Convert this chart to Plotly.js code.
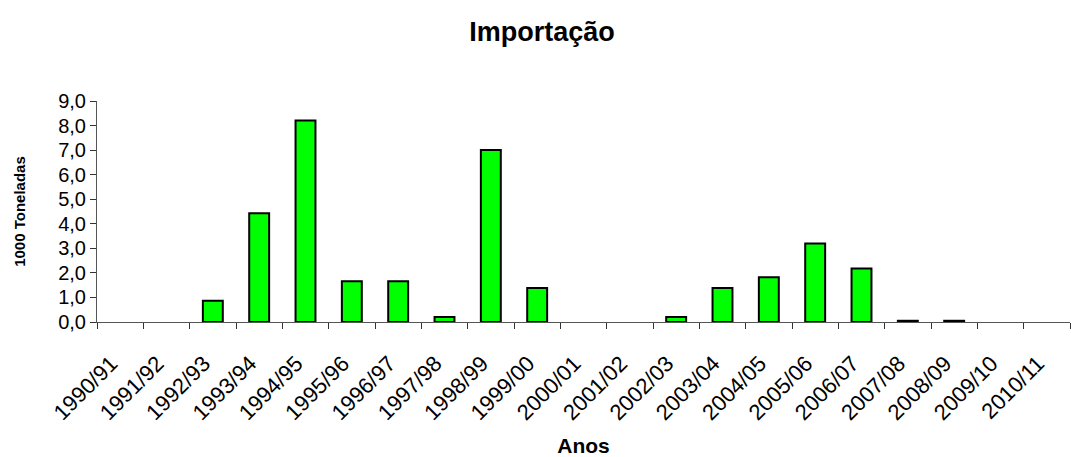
<!DOCTYPE html>
<html>
<head>
<meta charset="utf-8">
<script src="https://cdn.plot.ly/plotly-3.0.1.min.js"></script>
<style>html,body{margin:0;padding:0;background:#fff;}#chart{width:1071px;height:457px;}</style>
</head>
<body>
<div id="chart"></div>
<script>
var categories = ["1990/91","1991/92","1992/93","1993/94","1994/95","1995/96","1996/97","1997/98","1998/99","1999/00","2000/01","2001/02","2002/03","2003/04","2004/05","2005/06","2006/07","2007/08","2008/09","2009/10","2010/11"];
var importacao = [0, 0, 0.87, 4.43, 8.21, 1.66, 1.66, 0.2, 7.0, 1.38, 0, 0, 0.2, 1.38, 1.82, 3.2, 2.18, 0.05, 0.05, 0, 0];
var yTicks = [0,1,2,3,4,5,6,7,8,9];

var outlineWidths = importacao.map(function (v) { return v > 0 ? 2 : 0; });

var trace = {
  type: "bar",
  x: categories,
  y: importacao,
  marker: {color: "#00ff00", line: {color: "#000000", width: outlineWidths}},
  hoverinfo: "x+y"
};

var layout = {
  width: 1071,
  height: 457,
  margin: {l: 97, r: 1, t: 101, b: 135},
  paper_bgcolor: "#ffffff",
  plot_bgcolor: "#ffffff",
  separators: ",.",
  bargap: 0.57,
  showlegend: false,
  font: {family: "Liberation Sans, Arial, sans-serif", color: "#000000"},
  title: {text: "<b>Importação</b>", x: 0.506, xanchor: "center", y: 0.93, yanchor: "middle", font: {size: 27, color: "#000000"}},
  xaxis: {
    type: "category",
    tickangle: -45,
    tickson: "boundaries",
    ticks: "outside",
    ticklen: 6,
    tickcolor: "#333333",
    showline: true,
    linecolor: "#555555",
    linewidth: 1,
    showgrid: false,
    zeroline: false,
    tickfont: {size: 22, color: "#000000"},
    ticklabelstandoff: 19,
    ticklabelshift: -9,
    title: {text: "<b>Anos</b>", font: {size: 21, color: "#000000"}, standoff: 20},
    automargin: false
  },
  yaxis: {
    range: [0, 9],
    tickvals: yTicks,
    tickformat: ".1f",
    ticks: "outside",
    ticklen: 6,
    tickcolor: "#333333",
    showline: true,
    linecolor: "#555555",
    linewidth: 1,
    showgrid: false,
    zeroline: false,
    tickfont: {size: 20, color: "#000000"},
    title: {text: "<b>1000 Toneladas</b>", font: {size: 15, color: "#000000"}, standoff: 28},
    automargin: false
  }
};

Plotly.newPlot("chart", [trace], layout, {displayModeBar: false, staticPlot: true});
</script>
</body>
</html>
